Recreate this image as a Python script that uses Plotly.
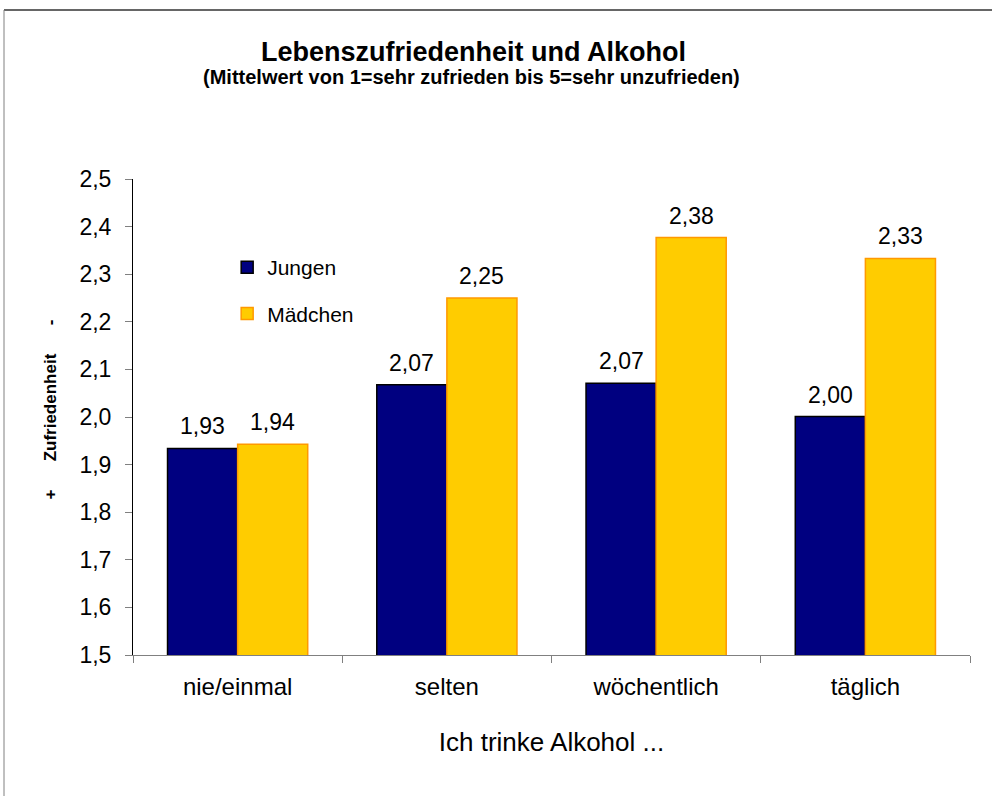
import plotly.graph_objects as go

categories = ["nie/einmal", "selten", "wöchentlich", "täglich"]
jungen = [1.934, 2.068, 2.071, 2.001]
maedchen = [1.943, 2.250, 2.377, 2.333]
y_ticks = [1.5, 1.6, 1.7, 1.8, 1.9, 2.0, 2.1, 2.2, 2.3, 2.4, 2.5]
y_tick_labels = [f"{v:.1f}".replace(".", ",") for v in y_ticks]

FONT = "Liberation Sans, Arial, sans-serif"
SP = "\u00a0" * 6

fig = go.Figure()
fig.add_trace(go.Bar(
    x=categories, y=jungen, name="Jungen", legendgroup="a",
    marker=dict(color="#000080", line=dict(color="#000000", width=1.5)),
))
fig.add_trace(go.Bar(
    x=categories, y=maedchen, name="Mädchen", legendgroup="b",
    marker=dict(color="#FFCC00", line=dict(color="#FF9900", width=1.5)),
))

annotations = []
for series, shift in ((jungen, -35), (maedchen, 35)):
    for c, v in zip(categories, series):
        annotations.append(dict(
            x=c, y=v, xref="x", yref="y", xshift=shift, yshift=7,
            text=f"{v:.2f}".replace(".", ","), showarrow=False,
            yanchor="bottom", font=dict(size=23, color="#000000", family=FONT),
        ))

annotations += [
    dict(x=-0.112, y=0.515, xref="paper", yref="paper", textangle=-90,
         text=f"<b>+{SP}Zufriedenheit{SP}-</b>",
         showarrow=False, font=dict(size=17, color="#000000", family=FONT)),
    dict(x=0.4074, y=1.2668, xref="paper", yref="paper", yanchor="middle",
         text="<b>Lebenszufriedenheit und Alkohol</b>", showarrow=False,
         font=dict(size=27, color="#000000", family=FONT)),
    dict(x=0.4044, y=1.2143, xref="paper", yref="paper", yanchor="middle",
         text="<b>(Mittelwert von 1=sehr zufrieden bis 5=sehr unzufrieden)</b>",
         showarrow=False, font=dict(size=20, color="#000000", family=FONT)),
]

fig.update_layout(
    width=992, height=796,
    margin=dict(l=133, r=22, t=179, b=141),
    paper_bgcolor="white", plot_bgcolor="white",
    font=dict(family=FONT, color="#000000"),
    barmode="group", bargap=0.33, bargroupgap=0,
    showlegend=True,
    legend=dict(
        x=0.1125, y=0.857, xanchor="left", yanchor="top",
        bgcolor="rgba(0,0,0,0)", font=dict(size=21, family=FONT),
        traceorder="grouped", tracegroupgap=16, itemwidth=30,
    ),
    xaxis=dict(
        showline=True, linecolor="#808080", linewidth=1,
        ticks="outside", tickson="boundaries", ticklen=7, tickcolor="#808080",
        ticklabelstandoff=10,
        tickfont=dict(size=24, family=FONT, color="#000000"),
        title=dict(text="Ich trinke Alkohol ...", font=dict(size=26, family=FONT), standoff=34),
        showgrid=False,
    ),
    yaxis=dict(
        range=[1.5, 2.5], tickvals=y_ticks, ticktext=y_tick_labels,
        showline=True, linecolor="#000000", linewidth=1,
        ticks="outside", ticklen=7, tickcolor="#808080", ticklabelstandoff=9,
        tickfont=dict(size=23, family=FONT, color="#000000"),
        showgrid=False, zeroline=False,
    ),
    annotations=annotations,
    shapes=[
        dict(type="line", xref="paper", yref="paper",
             x0=(4 - 133) / 837, x1=(992 - 133) / 837,
             y0=(655 - 10) / 476, y1=(655 - 10) / 476,
             line=dict(color="#333333", width=1.5)),
        dict(type="line", xref="paper", yref="paper",
             x0=(4 - 133) / 837, x1=(4 - 133) / 837,
             y0=(655 - 10) / 476, y1=(655 - 796) / 476,
             line=dict(color="#808080", width=1)),
    ],
)

fig.write_html("out.html", config={"displayModeBar": False},
               post_script="document.body.style.margin='0';")
